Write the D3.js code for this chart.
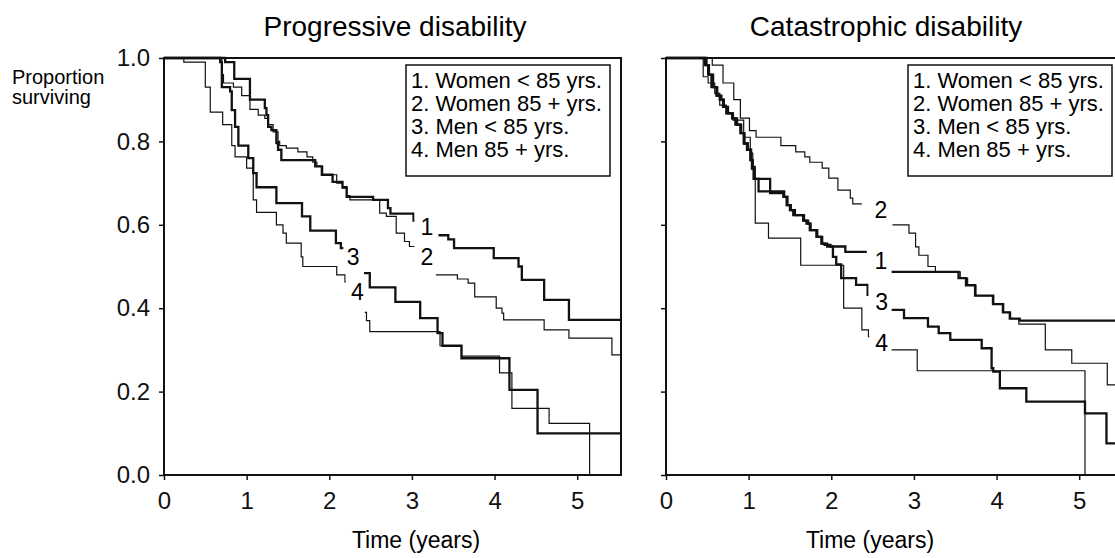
<!DOCTYPE html>
<html>
<head>
<meta charset="utf-8">
<script src="https://cdn.jsdelivr.net/npm/d3@7"></script>
<style>
  body { margin: 0; background: #fff; }
  svg { display: block; font-family: "Liberation Sans", Arial, sans-serif; }
</style>
</head>
<body>
<div id="chart"></div>
<script>
// ---- data (time in years, proportion surviving) ----
const timeTicks = [0, 1, 2, 3, 4, 5];
const survivalTicks = [0, 0.2, 0.4, 0.6, 0.8, 1.0];
const groupNames = ['1. Women < 85 yrs.', '2. Women 85 + yrs.', '3. Men < 85 yrs.', '4. Men 85 + yrs.'];
const curveLabels = ['1', '2', '3', '4'];
const thickGroup = [true, false, true, false];

// Progressive disability
const progWomenYoung = [[0,1],[0.74,0.99],[0.85,0.95],[1.04,0.90],[1.22,0.88],[1.24,0.863],[1.26,0.835],[1.30,0.827],[1.36,0.796],[1.38,0.78],[1.42,0.755],[1.83,0.74],[1.91,0.72],[2.04,0.703],[2.16,0.69],[2.21,0.667],[2.53,0.66],[2.71,0.64],[2.74,0.627],[3.02,0.61],[3.20,0.575],[3.44,0.565],[3.51,0.544],[3.99,0.52],[4.29,0.50],[4.33,0.468],[4.60,0.42],[4.90,0.372]];
const progWomenOld = [[0,1],[0.70,0.96],[0.72,0.94],[0.84,0.93],[0.94,0.91],[1.04,0.877],[1.14,0.863],[1.22,0.855],[1.26,0.84],[1.32,0.823],[1.38,0.80],[1.40,0.79],[1.48,0.784],[1.62,0.775],[1.73,0.763],[1.80,0.75],[1.85,0.74],[1.92,0.72],[2.09,0.70],[2.16,0.688],[2.21,0.67],[2.25,0.66],[2.61,0.628],[2.69,0.62],[2.81,0.58],[2.91,0.56],[2.97,0.548],[3.15,0.48],[3.55,0.47],[3.68,0.46],[3.76,0.427],[4.02,0.40],[4.09,0.388],[4.11,0.372],[4.60,0.348],[4.90,0.328],[5.42,0.288]];
const progMenYoung = [[0,1],[0.68,0.99],[0.70,0.93],[0.80,0.92],[0.82,0.875],[0.86,0.835],[0.90,0.79],[1.02,0.76],[1.08,0.724],[1.12,0.69],[1.36,0.652],[1.67,0.62],[1.77,0.586],[2.08,0.556],[2.14,0.544],[2.30,0.484],[2.49,0.45],[2.80,0.415],[3.10,0.376],[3.31,0.34],[3.37,0.31],[3.60,0.28],[4.18,0.204],[4.52,0.10]];
const progMenOld = [[0,1],[0.24,0.99],[0.50,0.93],[0.56,0.87],[0.71,0.84],[0.82,0.79],[0.86,0.763],[1.00,0.736],[1.08,0.66],[1.12,0.63],[1.36,0.60],[1.44,0.58],[1.48,0.556],[1.66,0.523],[1.68,0.50],[2.09,0.48],[2.19,0.463],[2.30,0.39],[2.45,0.37],[2.49,0.344],[3.34,0.31],[3.60,0.285],[4.06,0.245],[4.21,0.16],[4.66,0.124],[5.15,0]];
const progGaps = [[3.03, 3.32], [3.03, 3.29], [2.17, 2.42], [2.20, 2.43]];
const progLabelAt = [[3.18, 0.595], [3.18, 0.523], [2.29, 0.523], [2.34, 0.439]];

// Catastrophic disability
const catWomenYoung = [[0,1],[0.47,0.983],[0.51,0.96],[0.55,0.93],[0.61,0.91],[0.65,0.90],[0.69,0.883],[0.73,0.867],[0.80,0.855],[0.84,0.84],[0.90,0.82],[0.94,0.795],[0.98,0.78],[1.02,0.755],[1.04,0.735],[1.06,0.71],[1.26,0.676],[1.42,0.667],[1.46,0.647],[1.50,0.635],[1.54,0.623],[1.66,0.61],[1.70,0.603],[1.74,0.587],[1.82,0.571],[1.88,0.555],[1.92,0.552],[1.99,0.548],[2.17,0.535],[2.60,0.487],[3.54,0.472],[3.63,0.455],[3.74,0.43],[3.96,0.41],[4.08,0.39],[4.16,0.375],[4.28,0.37]];
const catWomenOld = [[0,1],[0.56,0.983],[0.69,0.94],[0.82,0.90],[0.90,0.856],[1.01,0.826],[1.09,0.81],[1.39,0.79],[1.57,0.775],[1.68,0.763],[1.74,0.75],[1.89,0.736],[1.97,0.712],[2.08,0.683],[2.23,0.664],[2.26,0.65],[2.50,0.60],[2.94,0.58],[3.02,0.547],[3.06,0.527],[3.17,0.50],[3.26,0.487],[3.56,0.472],[3.65,0.455],[3.75,0.43],[3.95,0.41],[4.07,0.39],[4.17,0.375],[4.27,0.362],[4.59,0.30],[4.91,0.268],[5.34,0.216]];
const catMenYoung = [[0,1],[0.49,0.983],[0.52,0.96],[0.57,0.93],[0.62,0.91],[0.67,0.90],[0.70,0.883],[0.75,0.867],[0.81,0.855],[0.86,0.84],[0.91,0.82],[0.95,0.795],[0.99,0.78],[1.03,0.755],[1.05,0.735],[1.07,0.71],[1.12,0.68],[1.43,0.667],[1.47,0.647],[1.51,0.635],[1.56,0.623],[1.67,0.61],[1.72,0.603],[1.75,0.587],[1.83,0.571],[1.89,0.555],[1.95,0.548],[2.02,0.523],[2.06,0.505],[2.12,0.472],[2.30,0.456],[2.44,0.432],[2.60,0.396],[2.88,0.376],[3.17,0.356],[3.30,0.34],[3.44,0.324],[3.82,0.304],[3.94,0.256],[3.96,0.248],[4.04,0.208],[4.36,0.176],[5.07,0.148],[5.33,0.076]];
const catMenOld = [[0,1],[0.45,0.955],[0.51,0.94],[0.59,0.915],[0.65,0.887],[0.73,0.868],[0.81,0.851],[0.94,0.81],[1.02,0.772],[1.05,0.74],[1.08,0.604],[1.24,0.568],[1.63,0.503],[2.15,0.40],[2.37,0.348],[2.45,0.332],[2.60,0.30],[3.04,0.25],[5.07,0]];
const catGaps = [[2.43, 2.73], [2.37, 2.74], [2.45, 2.73], [2.46, 2.73]];
const catLabelAt = [[2.60, 0.513], [2.60, 0.635], [2.61, 0.416], [2.61, 0.316]];

// ---- layout ----
const W = 1115, H = 558;
const tMax = 5.53;
const plotW = 457, plotTop = 58, plotBottom = 475;

const panels = [
  {title: 'Progressive disability', left: 164, titleX: 395, xLabelX: 416, yLabels: true,
    curves: [progWomenYoung, progWomenOld, progMenYoung, progMenOld], gaps: progGaps, labelAt: progLabelAt},
  {title: 'Catastrophic disability', left: 666, titleX: 886, xLabelX: 870, yLabels: false,
    curves: [catWomenYoung, catWomenOld, catMenYoung, catMenOld], gaps: catGaps, labelAt: catLabelAt}
];

const svg = d3.select('#chart').append('svg')
  .attr('width', W)
  .attr('height', H);
svg.append('rect').attr('width', W).attr('height', H).attr('fill', '#fff');
const defs = svg.append('defs');

const y = d3.scaleLinear().domain([0, 1]).range([plotBottom, plotTop]);

// y axis title (left panel only)
svg.append('text')
  .attr('x', 12).attr('y', 84)
  .attr('font-size', 20)
  .text('Proportion');
svg.append('text')
  .attr('x', 12).attr('y', 104)
  .attr('font-size', 20)
  .text('surviving');

function drawPanel(p, pi) {
  const x = d3.scaleLinear().domain([0, tMax]).range([p.left, p.left + plotW]);
  const g = svg.append('g').attr('class', 'panel-' + pi);

  const line = d3.line()
    .x(d => x(d[0]))
    .y(d => y(d[1]))
    .curve(d3.curveStepAfter);

  // survival curves, broken where the curve number sits
  p.curves.forEach((c, i) => {
    const pts = c.concat([[tMax, c[c.length - 1][1]]]);
    const gap = p.gaps[i];
    [[-0.3, gap[0]], [gap[1], tMax + 0.3]].forEach((seg, k) => {
      const id = 'clip-' + pi + '-' + i + '-' + k;
      defs.append('clipPath').attr('id', id)
        .append('rect')
        .attr('x', x(seg[0]))
        .attr('y', 0)
        .attr('width', x(seg[1]) - x(seg[0]))
        .attr('height', H);
      g.append('path')
        .attr('d', line(pts))
        .attr('clip-path', 'url(#' + id + ')')
        .attr('fill', 'none')
        .attr('stroke', '#111')
        .attr('stroke-width', thickGroup[i] ? 2.3 : 1.2);
    });
    g.append('text')
      .attr('x', x(p.labelAt[i][0]))
      .attr('y', y(p.labelAt[i][1]))
      .attr('text-anchor', 'middle')
      .attr('dominant-baseline', 'central')
      .attr('font-size', 23)
      .text(curveLabels[i]);
  });

  // frame
  g.append('rect')
    .attr('x', p.left).attr('y', plotTop)
    .attr('width', plotW).attr('height', plotBottom - plotTop)
    .attr('fill', 'none')
    .attr('stroke', '#111')
    .attr('stroke-width', 2);

  // axes
  const yAxis = d3.axisLeft(y)
    .tickValues(survivalTicks)
    .tickSize(5)
    .tickSizeOuter(0)
    .tickPadding(9)
    .tickFormat(p.yLabels ? d3.format('.1f') : '');
  const ya = g.append('g')
    .attr('transform', 'translate(' + p.left + ',0)')
    .call(yAxis);
  ya.select('.domain').remove();
  ya.selectAll('.tick line').attr('stroke', '#111').attr('stroke-width', 1.5);
  ya.selectAll('.tick text')
    .attr('fill', '#111')
    .attr('font-size', 24)
    .attr('font-family', '"Liberation Sans", Arial, sans-serif');

  const xAxis = d3.axisBottom(x)
    .tickValues(timeTicks)
    .tickSize(5)
    .tickSizeOuter(0)
    .tickPadding(12)
    .tickFormat(d3.format('d'));
  const xa = g.append('g')
    .attr('transform', 'translate(0,' + plotBottom + ')')
    .call(xAxis);
  xa.select('.domain').remove();
  xa.selectAll('.tick line').attr('stroke', '#111').attr('stroke-width', 1.5);
  xa.selectAll('.tick text')
    .attr('fill', '#111')
    .attr('font-size', 24)
    .attr('font-family', '"Liberation Sans", Arial, sans-serif');

  // titles
  g.append('text')
    .attr('x', p.titleX).attr('y', 36)
    .attr('text-anchor', 'middle')
    .attr('font-size', 28)
    .text(p.title);
  g.append('text')
    .attr('x', p.xLabelX).attr('y', 548)
    .attr('text-anchor', 'middle')
    .attr('font-size', 23)
    .text('Time (years)');

  // legend
  const lx = p.left + 242, ly = 65;
  g.append('rect')
    .attr('x', lx).attr('y', ly)
    .attr('width', 204).attr('height', 111)
    .attr('fill', '#fff')
    .attr('stroke', '#111')
    .attr('stroke-width', 1.5);
  g.selectAll('.legend-item')
    .data(groupNames)
    .enter()
    .append('text')
      .attr('class', 'legend-item')
      .attr('x', lx + 5)
      .attr('y', (d, i) => ly + 23 + i * 23)
      .attr('font-size', 22)
      .text(d => d);
}

panels.forEach(drawPanel);
</script>
</body>
</html>
